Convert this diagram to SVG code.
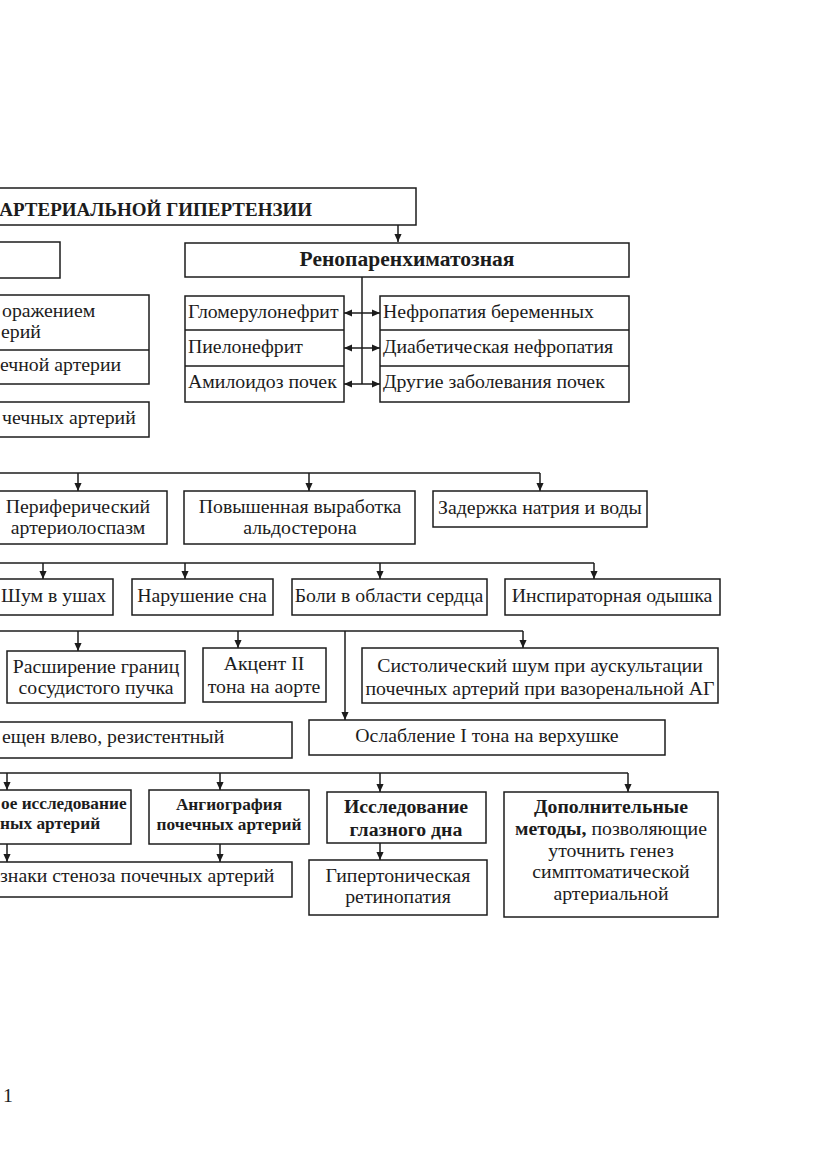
<svg xmlns="http://www.w3.org/2000/svg" width="831" height="1174" viewBox="0 0 831 1174">
<style>
.b{fill:#fff;stroke:#1c1c1c;stroke-width:1.5}
.t{font-family:"Liberation Serif","Times New Roman",serif;font-size:19.8px;fill:#1c1c1c}
.c{text-anchor:middle}
.bd{font-weight:bold}
.s{font-size:17.3px}
.h{font-size:19px}
.ln{fill:none;stroke:#1c1c1c;stroke-width:1.5}
.ar{marker-end:url(#ah)}
.da{marker-start:url(#ah);marker-end:url(#ah)}
</style>
<defs>
<marker id="ah" markerUnits="userSpaceOnUse" markerWidth="8" markerHeight="9" refX="9" refY="4.5" orient="auto-start-reverse" viewBox="0 0 9 9"><path d="M0,0.5 L9,4.5 L0,8.5 z" fill="#1c1c1c"/></marker>
</defs>
<rect width="831" height="1174" fill="#fff"/>
<g id="connectors">
<path class="ln ar" d="M398,225 V242"/>
<path class="ln" d="M362,277 V384"/>
<path class="ln da" d="M344,313 H380"/>
<path class="ln da" d="M344,348 H380"/>
<path class="ln da" d="M344,384 H380"/>
<path class="ln" d="M-5,473 H540"/>
<path class="ln ar" d="M78,473 V491"/>
<path class="ln ar" d="M309,473 V491"/>
<path class="ln ar" d="M540,473 V491"/>
<path class="ln" d="M-5,563 H594"/>
<path class="ln ar" d="M43,563 V579"/>
<path class="ln ar" d="M185,563 V579"/>
<path class="ln ar" d="M380,563 V579"/>
<path class="ln ar" d="M594,563 V579"/>
<path class="ln" d="M-5,631 H523"/>
<path class="ln ar" d="M78,631 V651"/>
<path class="ln ar" d="M238,631 V648"/>
<path class="ln ar" d="M523,631 V648"/>
<path class="ln ar" d="M345,631 V720"/>
<path class="ln" d="M-5,773 H628"/>
<path class="ln ar" d="M7,773 V790"/>
<path class="ln ar" d="M220,773 V790"/>
<path class="ln ar" d="M380,773 V792"/>
<path class="ln ar" d="M628,773 V792"/>
<path class="ln ar" d="M7,844 V862"/>
<path class="ln ar" d="M220,844 V862"/>
<path class="ln ar" d="M380,843 V860"/>
</g>
<g id="title"><rect class="b" x="-5" y="188" width="421" height="37"/><text class="t bd h" x="312" y="216" text-anchor="end">АРТЕРИАЛЬНОЙ ГИПЕРТЕНЗИИ</text></g>
<g id="left-type"><rect class="b" x="-5" y="242" width="65" height="36"/></g>
<g id="renoparenchymal"><rect class="b" x="185" y="243" width="444" height="34"/><text class="t bd c" x="407" y="266" style="font-size:21.5px">Ренопаренхиматозная</text></g>
<g id="renal-left"><rect class="b" x="185" y="296" width="159" height="106"/><path class="ln" d="M185,330 H344 M185,366 H344"/>
<text class="t" x="188" y="318">Гломерулонефрит</text><text class="t" x="188" y="353">Пиелонефрит</text><text class="t" x="188" y="388">Амилоидоз почек</text></g>
<g id="renal-right"><rect class="b" x="380" y="296" width="249" height="106"/><path class="ln" d="M380,330 H629 M380,366 H629"/>
<text class="t" x="383" y="318">Нефропатия беременных</text><text class="t" x="383" y="353">Диабетическая нефропатия</text><text class="t" x="383" y="388">Другие заболевания почек</text></g>
<g id="vasorenal"><rect class="b" x="-5" y="295" width="154" height="89"/><path class="ln" d="M-5,350 H149"/>
<text class="t" x="2" y="317">оражением</text><text class="t" x="1" y="338">ерий</text><text class="t" x="0" y="371">ечной артерии</text></g>
<g id="vasorenal2"><rect class="b" x="-5" y="402" width="154" height="35"/><text class="t" x="2" y="424">чечных артерий</text></g>
<g id="spasm"><rect class="b" x="-11" y="491" width="178" height="53"/><text class="t c" x="78" y="513">Периферический</text><text class="t c" x="78" y="534">артериолоспазм</text></g>
<g id="aldosterone"><rect class="b" x="184" y="491" width="231" height="53"/><text class="t c" x="300" y="513">Повышенная выработка</text><text class="t c" x="300" y="534">альдостерона</text></g>
<g id="sodium"><rect class="b" x="433" y="491" width="214" height="36"/><text class="t c" x="540" y="514">Задержка натрия и воды</text></g>
<g id="tinnitus"><rect class="b" x="-27" y="579" width="140" height="36"/><text class="t" x="1" y="602">Шум в ушах</text></g>
<g id="sleep"><rect class="b" x="132" y="579" width="141" height="36"/><text class="t c" x="202" y="602">Нарушение сна</text></g>
<g id="heartpain"><rect class="b" x="292" y="579" width="195" height="36"/><text class="t c" x="389" y="602">Боли в области сердца</text></g>
<g id="dyspnea"><rect class="b" x="505" y="579" width="215" height="36"/><text class="t c" x="612" y="602">Инспираторная одышка</text></g>
<g id="bundle"><rect class="b" x="7" y="651" width="178" height="52"/><text class="t c" x="96" y="673">Расширение границ</text><text class="t c" x="96" y="694">сосудистого пучка</text></g>
<g id="accent"><rect class="b" x="203" y="648" width="123" height="54"/><text class="t c" x="264" y="670">Акцент II</text><text class="t c" x="264" y="693">тона на аорте</text></g>
<g id="murmur"><rect class="b" x="362" y="648" width="356" height="55"/><text class="t c" x="540" y="672">Систолический шум при аускультации</text><text class="t c" x="540" y="695">почечных артерий при вазоренальной АГ</text></g>
<g id="apex"><rect class="b" x="-5" y="722" width="297" height="36"/><text class="t" x="2" y="743">ещен влево, резистентный</text></g>
<g id="tone1"><rect class="b" x="309" y="720" width="356" height="35"/><text class="t c" x="487" y="742">Ослабление I тона на верхушке</text></g>
<g id="ultrasound"><rect class="b" x="-5" y="790" width="136" height="54"/><text class="t bd s" x="1" y="809">ое исследование</text><text class="t bd s" x="0" y="829">ных артерий</text></g>
<g id="angio"><rect class="b" x="149" y="790" width="160" height="54"/><text class="t bd s c" x="229" y="810">Ангиография</text><text class="t bd s c" x="229" y="830">почечных артерий</text></g>
<g id="stenosis"><rect class="b" x="-5" y="862" width="297" height="35"/><text class="t" x="0" y="882">знаки стеноза почечных артерий</text></g>
<g id="fundus"><rect class="b" x="327" y="792" width="159" height="51"/><text class="t bd c" x="406" y="813">Исследование</text><text class="t bd c" x="406" y="836">глазного дна</text></g>
<g id="retinopathy"><rect class="b" x="309" y="860" width="178" height="55"/><text class="t c" x="398" y="882">Гипертоническая</text><text class="t c" x="398" y="903">ретинопатия</text></g>
<g id="extra"><rect class="b" x="504" y="792" width="214" height="125"/><text class="t bd c" x="611" y="813">Дополнительные</text><text class="t c" x="611" y="835"><tspan class="bd">методы,</tspan> позволяющие</text><text class="t c" x="611" y="857">уточнить генез</text><text class="t c" x="611" y="878">симптоматической</text><text class="t c" x="611" y="900">артериальной</text></g>
<text class="t" x="3" y="1102">1</text>
</svg>
